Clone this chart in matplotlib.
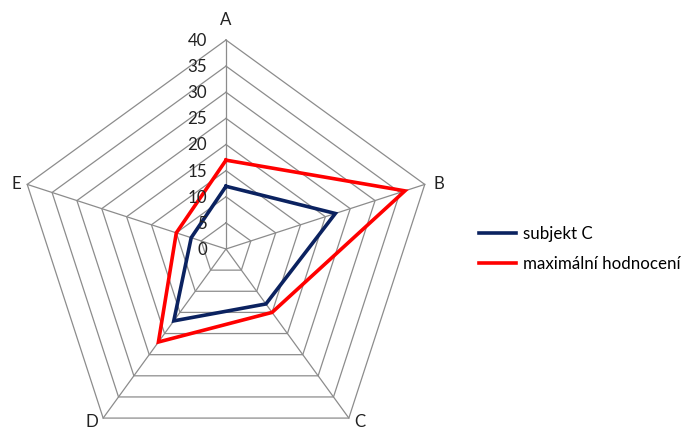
import numpy as np
import matplotlib
matplotlib.use("Agg")
import matplotlib.pyplot as plt
from matplotlib import transforms

plt.rcParams['font.family'] = ['Lato', 'DejaVu Sans']

categories = ["A", "B", "C", "D", "E"]
subjekt_c = [12, 22, 13, 17, 7]
max_hodnoceni = [17, 36, 15, 22, 10]
rings = [5, 10, 15, 20, 25, 30, 35, 40]
tick_labels = ["0", "5", "10", "15", "20", "25", "30", "35", "40"]
series_names = ["subjekt C", "maximální hodnocení"]

W, H = 681, 430
fig = plt.figure(figsize=(W / 100, H / 100), dpi=100)
fig.patch.set_facecolor("white")

cx, cy, R = 226, 249, 209
ax = fig.add_axes([(cx - R) / W, (H - cy - R) / H, 2 * R / W, 2 * R / H],
                  projection="polar")
ax.set_theta_offset(np.pi / 2)
ax.set_theta_direction(-1)
ax.set_ylim(0, 40)
ax.grid(False)
ax.spines["polar"].set_visible(False)
ax.set_xticks([])
ax.set_yticks([])
ax.patch.set_visible(False)

n = len(categories)
theta = np.arange(n) * 2 * np.pi / n
closed = np.append(theta, theta[0])

grid_col = "#8c8c8c"
for r in rings:
    ax.plot(closed, [r] * (n + 1), color=grid_col, lw=0.9, zorder=1, clip_on=False)
for t in theta:
    ax.plot([t, t], [0, 40], color=grid_col, lw=0.9, zorder=1, clip_on=False)

l1, = ax.plot(closed, subjekt_c + subjekt_c[:1], color="#0b2260", lw=2.6,
              zorder=3, clip_on=False, solid_joinstyle="miter")
l2, = ax.plot(closed, max_hodnoceni + max_hodnoceni[:1], color="#ff0000", lw=2.6,
              zorder=2, clip_on=False, solid_joinstyle="miter")

fs = 12.2
# radial scale labels next to the first spoke
tr_ticks = transforms.offset_copy(ax.transData, fig=fig, x=-19, y=-1, units="dots")
for v, lab in zip([0] + rings, tick_labels):
    ax.text(0, v, lab, transform=tr_ticks, ha="right", va="center",
            fontsize=fs, color="#222222", clip_on=False)

# category labels around the outer ring
offsets = [(0, 20, "center"), (9, 0, "left"), (11, -4, "center"),
           (-11, -4, "center"), (-6, 0, "right")]
for t, lab, (dx, dy, ha) in zip(theta, categories, offsets):
    tr = transforms.offset_copy(ax.transData, fig=fig, x=dx, y=dy, units="dots")
    ax.text(t, 40, lab, transform=tr, ha=ha, va="center", fontsize=fs,
            color="#222222", clip_on=False)

fig.legend([l1, l2], series_names, loc="center left",
           bbox_to_anchor=(472 / W, 1 - 249 / H), frameon=False,
           fontsize=fs, handlelength=2.2, handletextpad=0.4,
           labelspacing=0.8, borderaxespad=0)

fig.savefig("out.png", dpi=100, facecolor="white")
